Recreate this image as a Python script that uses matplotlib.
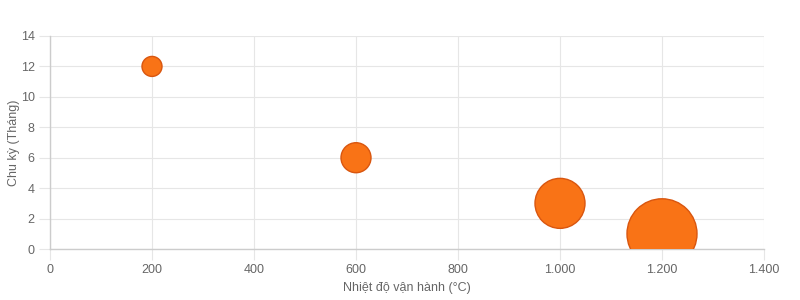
import matplotlib
matplotlib.use("Agg")
import matplotlib.pyplot as plt
from matplotlib.ticker import FuncFormatter, MultipleLocator

plt.rcParams['font.family'] = ['Liberation Sans', 'DejaVu Sans']

temps = [200, 600, 1000, 1200]
cycles = [12, 6, 3, 1]
radii_px = [10, 15, 25, 35]

x_label = "Nhiệt độ vận hành (°C)"
y_label = "Chu kỳ (Tháng)"

fig = plt.figure(figsize=(8, 3), dpi=100)
ax = fig.add_axes([0.0625, 0.17, 0.8925, 0.71])

sizes = [(2 * r * 72 / 100) ** 2 for r in radii_px]
ax.scatter(temps, cycles, s=sizes, c='#f97316', edgecolors='#d9560f',
           linewidths=1, zorder=3, clip_on=True)

ax.set_xlim(0, 1400)
ax.set_ylim(0, 14)
ax.xaxis.set_major_locator(MultipleLocator(200))
ax.yaxis.set_major_locator(MultipleLocator(2))
ax.xaxis.set_major_formatter(FuncFormatter(lambda v, p: f"{int(v):,}".replace(",", ".")))

ax.grid(True, color='#e6e6e6', linewidth=0.8, zorder=0)
ax.set_axisbelow(True)
for side in ['top', 'right']:
    ax.spines[side].set_visible(False)
for side in ['left', 'bottom']:
    ax.spines[side].set_color('#cccccc')
    ax.spines[side].set_linewidth(1)

ax.tick_params(axis='both', colors='#e6e6e6', labelcolor='#666666',
               labelsize=9, length=8, width=0.8, pad=3)

ax.set_xlabel(x_label, fontsize=9, color='#666666', labelpad=4)
ax.set_ylabel(y_label, fontsize=9, color='#666666')
ax.yaxis.set_label_coords(-0.042, 0.5)

fig.savefig("out.png", dpi=100)
